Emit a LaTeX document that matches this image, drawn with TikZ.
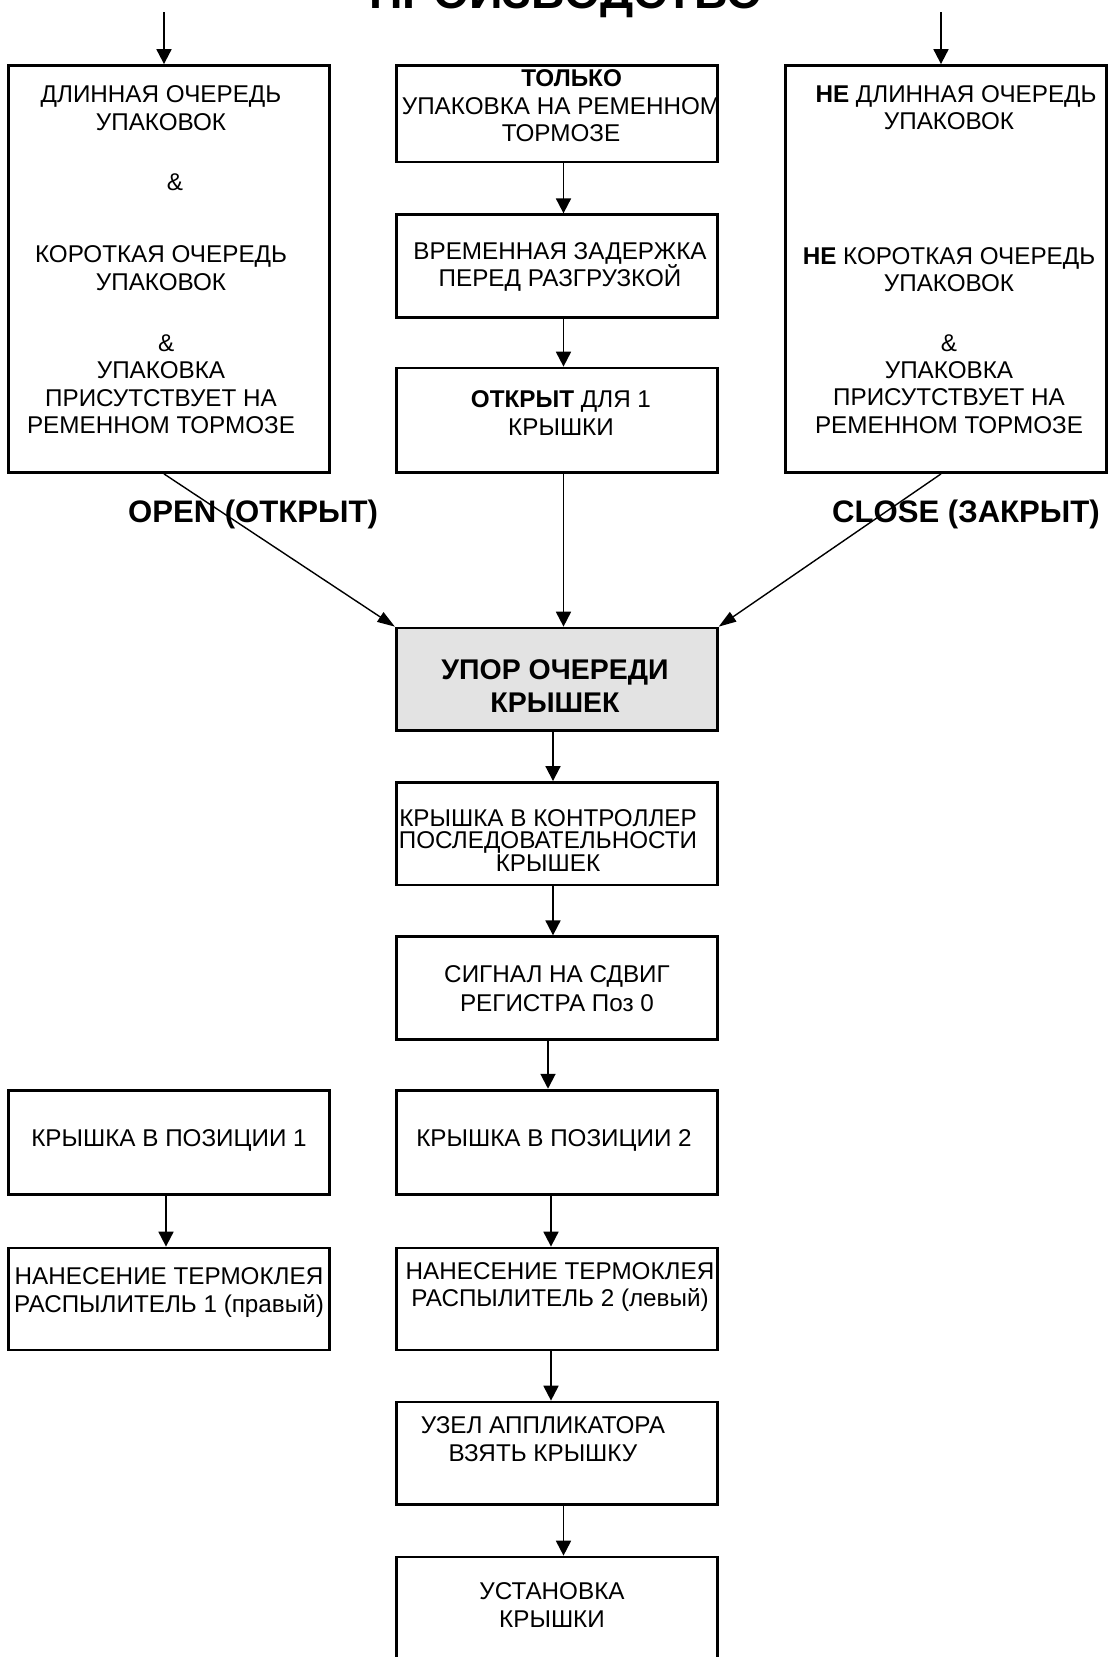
\documentclass[tikz,border=0pt]{standalone}
\usepackage{fontspec}
\setmainfont{Liberation Sans}
\usepackage{xcolor}
\usetikzlibrary{arrows.meta}
\definecolor{stopgrey}{HTML}{E3E3E3}

\begin{document}
\begin{tikzpicture}[x=0.2mm, y=-0.2mm,
  box/.style={rectangle, draw=black, line width=1.6pt, minimum width=64.2mm, minimum height=20.5mm, inner sep=0pt},
  tallbox/.style={box, minimum height=81.4mm},
  txt/.style={font=\fontsize{13.8}{15.6}\selectfont, align=center, inner sep=0pt},
  lbl/.style={font=\fontsize{17.7}{20}\selectfont\bfseries, inner sep=0pt},
  arr/.style={-{Triangle[length=8.5pt, width=8.5pt]}, line width=1.1pt},
  diag/.style={-{Triangle[length=10pt, width=6.5pt]}, line width=0.8pt},
]
\useasboundingbox (0,0) rectangle (1108,1657);

% title
\node[font=\fontsize{26.5}{30}\selectfont\bfseries, anchor=base, inner sep=0pt] (title) at (566,8) {ПРОИЗВОДСТВО};
\coordinate (tl) at (164,12);
\coordinate (tr) at (941,12);

% conditions
\node[tallbox] (lbox) at (169.3,269) {};
\node[txt] (lboxt) at (161,260) {ДЛИННАЯ ОЧЕРЕДЬ\\УПАКОВОК\\[18.8pt]\hspace*{16pt}\&\\[25.3pt]КОРОТКАЯ ОЧЕРЕДЬ\\УПАКОВОК\\[19.4pt]\hspace*{6pt}\&\\УПАКОВКА\\ПРИСУТСТВУЕТ НА\\РЕМЕННОМ ТОРМОЗЕ};

\node[box, minimum height=19.3mm] (m1) at (556.8,113.8) {};
\node[txt] (m1t) at (561,106) {\hspace*{12pt}\textbf{ТОЛЬКО}\\УПАКОВКА НА РЕМЕННОМ\\ТОРМОЗЕ};
\node[box] (m2) at (556.8,266) {};
\node[txt] (m2t) at (560,267) {ВРЕМЕННАЯ ЗАДЕРЖКА\\ПЕРЕД РАЗГРУЗКОЙ};
\node[box, minimum height=20.9mm] (m3) at (556.8,420.3) {};
\node[txt] (m3t) at (561,413) {\textbf{ОТКРЫТ} ДЛЯ 1\\КРЫШКИ};

\node[tallbox] (rbox) at (945.8,269) {};
\node[txt] (rboxt) at (949,259.5) {\hspace*{8pt}\textbf{НЕ} ДЛИННАЯ ОЧЕРЕДЬ\\УПАКОВОК\\[60.8pt]\textbf{НЕ} КОРОТКАЯ ОЧЕРЕДЬ\\УПАКОВОК\\[18.3pt]\&\\УПАКОВКА\\ПРИСУТСТВУЕТ НА\\РЕМЕННОМ ТОРМОЗЕ};

\node[lbl] (open) at (253,514) {OPEN (ОТКРЫТ)};
\node[lbl] (close) at (966,514) {CLOSE (ЗАКРЫТ)};

% lid stop and sequence
\node[box, fill=stopgrey] (stop) at (556.8,679.3) {};
\node[txt, font=\fontsize{16.2}{18.8}\selectfont\bfseries] (stopt) at (555,686.5) {УПОР ОЧЕРЕДИ\\КРЫШЕК};
\node[box] (ctrl) at (556.8,833.7) {};
\node[txt, font=\fontsize{13.8}{12.6}\selectfont] (ctrlt) at (548,840.5) {КРЫШКА В КОНТРОЛЛЕР\\ПОСЛЕДОВАТЕЛЬНОСТИ\\КРЫШЕК};
\node[box] (sig) at (556.8,988) {};
\node[txt, font=\fontsize{13.8}{16.5}\selectfont] (sigt) at (557,988.5) {СИГНАЛ НА СДВИГ\\РЕГИСТРА Поз 0};

% positions and glue
\node[box, minimum height=20.9mm] (pos1) at (169.3,1142.4) {};
\node[txt] (pos1t) at (169,1140) {КРЫШКА В ПОЗИЦИИ 1};
\node[box, minimum height=20.9mm] (pos2) at (556.8,1142.4) {};
\node[txt] (pos2t) at (554,1140) {КРЫШКА В ПОЗИЦИИ 2};
\node[box, minimum height=20.4mm] (glue1) at (169.3,1299) {};
\node[txt] (glue1t) at (169,1292.5) {НАНЕСЕНИЕ ТЕРМОКЛЕЯ\\РАСПЫЛИТЕЛЬ 1 (правый)};
\node[box, minimum height=20.4mm] (glue2) at (556.8,1299) {};
\node[txt] (glue2t) at (560,1287) {НАНЕСЕНИЕ ТЕРМОКЛЕЯ\\РАСПЫЛИТЕЛЬ 2 (левый)};
\node[box] (app) at (556.8,1453.3) {};
\node[txt] (appt) at (543,1439) {УЗЕЛ АППЛИКАТОРА\\ВЗЯТЬ КРЫШКУ};
\node[box] (inst) at (556.8,1608.3) {};
\node[txt] (instt) at (552,1605) {УСТАНОВКА\\КРЫШКИ};

% connectors
\draw[arr] (tl) -- (tl |- lbox.north);
\draw[arr] (tr) -- (tr |- rbox.north);
\draw[arr] ([xshift=1.34mm]m1.south) -- ([xshift=1.34mm]m2.north);
\draw[arr] ([xshift=1.34mm]m2.south) -- ([xshift=1.34mm]m3.north);
\draw[arr] ([xshift=1.34mm]m3.south) -- ([xshift=1.34mm]stop.north);
\draw[diag] ([xshift=-1.06mm]lbox.south) -- (stop.north west);
\draw[diag] ([xshift=-0.96mm]rbox.south) -- (stop.north east);
\draw[arr] ([xshift=-0.76mm]stop.south) -- ([xshift=-0.76mm]ctrl.north);
\draw[arr] ([xshift=-0.76mm]ctrl.south) -- ([xshift=-0.76mm]sig.north);
\draw[arr] ([xshift=-1.76mm]sig.south) -- ([xshift=-1.76mm]pos2.north);
\draw[arr] ([xshift=-1.16mm]pos2.south) -- ([xshift=-1.16mm]glue2.north);
\draw[arr] ([xshift=-1.16mm]glue2.south) -- ([xshift=-1.16mm]app.north);
\draw[arr] ([xshift=1.34mm]app.south) -- ([xshift=1.34mm]inst.north);
\draw[arr] ([xshift=-0.66mm]pos1.south) -- ([xshift=-0.66mm]glue1.north);
\end{tikzpicture}
\end{document}
